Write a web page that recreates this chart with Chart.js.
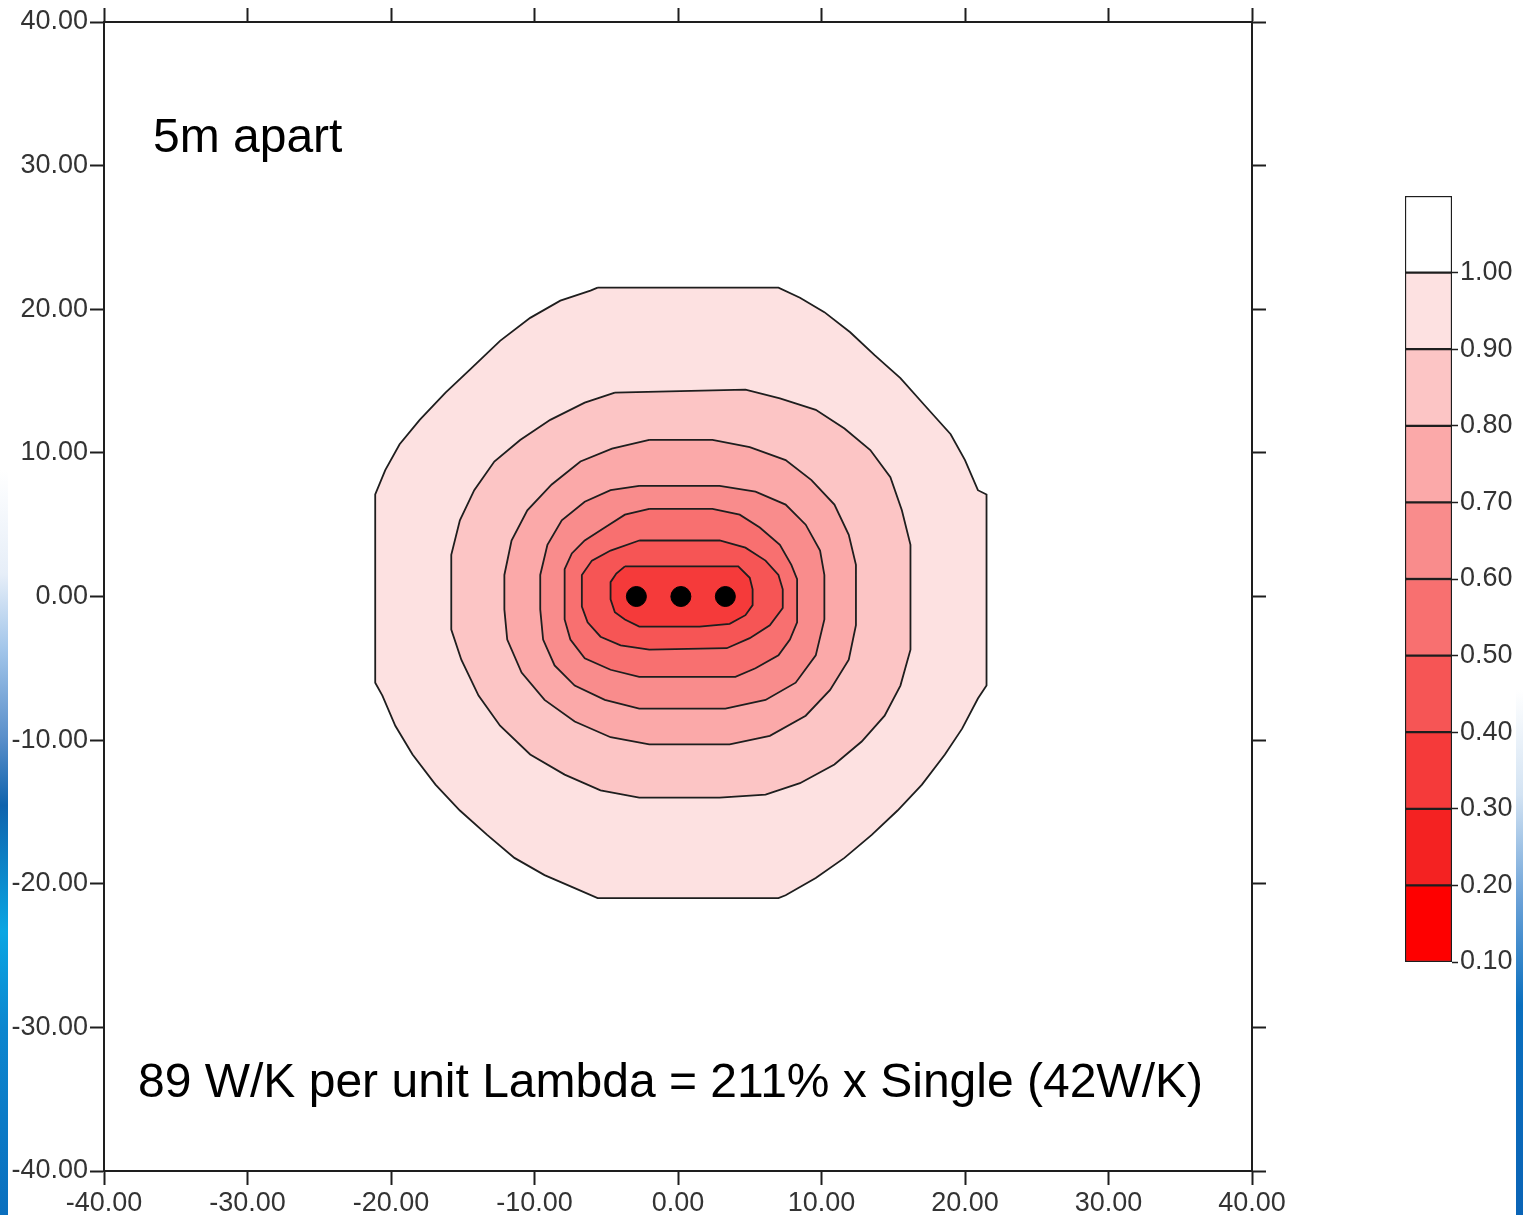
<!DOCTYPE html>
<html>
<head>
<meta charset="utf-8">
<title>5m apart</title>
<script src="https://cdn.jsdelivr.net/npm/chart.js@4/dist/chart.umd.min.js"></script>
<style>
  html, body { margin: 0; padding: 0; background: #fff; }
  #wrap { position: relative; width: 1523px; height: 1215px; overflow: hidden; }
  .strip { position: absolute; width: 8px; }
  #stripL { left: 0; top: 470px; height: 745px;
    background: linear-gradient(#ffffff 0%, #e6eef8 14%, #a3c6ea 24%, #5a8fca 36%, #0f63ad 45%, #0aa6e3 62%, #0c86cf 75%, #0a6fbe 100%); }
  #stripR { left: 1516px; top: 690px; height: 525px; width: 7px;
    background: linear-gradient(#ffffff 0%, #d3e3f3 20%, #6aa1d7 40%, #0a6fbe 60%, #0a64b6 100%); }
  #plot { position: absolute; left: 0; top: 0; }
  #scale { position: absolute; left: 1395px; top: 170px; }
</style>
</head>
<body>
<div id="wrap">
  <div class="strip" id="stripL"></div>
  <div class="strip" id="stripR"></div>
  <canvas id="plot" width="1523" height="1215"></canvas>
  <canvas id="scale" width="128" height="820"></canvas>
</div>
<script>
  // axis ticks, both directions
  var axisTicks = [-40, -30, -20, -10, 0, 10, 20, 30, 40];

  // contour levels, outermost first
  var levels = [1.00, 0.90, 0.80, 0.70, 0.60, 0.50, 0.40];

  var ring100 = [[-5.6,21.5],[7.0,21.5],[8.5,20.8],[10.2,19.8],[12.0,18.4],[13.7,16.8],[15.5,15.2],[17.2,13.3],[19.0,11.3],[20.0,9.5],[20.9,7.4],[21.5,7.1],[21.5,-6.2],[20.9,-7.1],[19.8,-9.2],[18.6,-11.0],[17.0,-13.1],[15.3,-14.9],[13.5,-16.6],[11.6,-18.2],[9.6,-19.6],[7.5,-20.8],[7.0,-21.0],[-5.6,-21.0],[-7.2,-20.3],[-9.3,-19.4],[-11.4,-18.2],[-13.3,-16.6],[-15.2,-14.9],[-16.9,-13.1],[-18.5,-11.0],[-19.7,-9.0],[-20.6,-6.9],[-21.1,-6.0],[-21.1,7.1],[-20.4,8.8],[-19.4,10.6],[-18.0,12.3],[-16.2,14.2],[-14.5,15.8],[-12.4,17.8],[-10.3,19.4],[-8.2,20.6],[-6.1,21.3]];
  var ring90 = [[-4.4,14.2],[4.7,14.4],[7.1,13.8],[9.6,13.0],[11.6,11.7],[13.4,10.2],[14.8,8.3],[15.6,6.0],[16.2,3.6],[16.2,-3.7],[15.5,-6.2],[14.4,-8.3],[12.8,-10.1],[10.9,-11.7],[8.5,-13.0],[6.1,-13.8],[2.9,-14.0],[-2.7,-14.0],[-5.4,-13.5],[-7.9,-12.4],[-10.3,-11.0],[-12.4,-9.0],[-13.9,-6.9],[-15.1,-4.4],[-15.8,-2.3],[-15.8,2.9],[-15.2,5.3],[-14.2,7.4],[-12.8,9.4],[-11.0,10.9],[-8.9,12.3],[-6.5,13.5]];
  var ring80 = [[-2.0,10.9],[2.4,10.9],[5.0,10.4],[7.5,9.5],[9.3,8.1],[10.9,6.4],[11.9,4.3],[12.4,2.2],[12.4,-2.0],[11.9,-4.4],[10.6,-6.5],[8.9,-8.3],[6.4,-9.7],[3.6,-10.3],[-2.0,-10.3],[-4.7,-9.8],[-7.2,-8.7],[-9.3,-7.2],[-10.9,-5.3],[-11.9,-3.0],[-12.1,-0.9],[-12.1,1.5],[-11.6,3.9],[-10.5,6.0],[-8.8,7.8],[-6.8,9.4],[-4.6,10.3]];
  var ring70 = [[-2.7,7.7],[2.9,7.7],[5.4,7.3],[7.5,6.4],[8.9,5.0],[9.9,3.2],[10.2,1.5],[10.2,-1.6],[9.6,-4.1],[8.2,-6.0],[6.1,-7.2],[3.3,-7.8],[-2.7,-7.8],[-5.1,-7.2],[-7.2,-6.2],[-8.6,-4.8],[-9.4,-3.0],[-9.6,-0.9],[-9.6,1.5],[-9.1,3.6],[-8.1,5.3],[-6.5,6.6],[-4.7,7.4]];
  var ring60 = [[-2.0,6.1],[2.4,6.1],[4.3,5.7],[5.7,4.8],[7.1,3.6],[7.9,2.2],[8.3,1.2],[8.3,-1.8],[7.8,-3.0],[7.0,-4.1],[5.4,-5.0],[4.0,-5.6],[-2.7,-5.6],[-4.7,-5.1],[-6.5,-4.3],[-7.5,-3.0],[-7.9,-1.6],[-7.9,1.9],[-7.4,3.0],[-6.5,3.9],[-5.1,4.8],[-3.7,5.7]];
  var ring50 = [[-2.7,3.9],[2.9,3.9],[4.7,3.4],[6.1,2.5],[7.0,1.5],[7.3,0.5],[7.3,-0.8],[6.4,-2.0],[5.0,-2.9],[3.4,-3.6],[-2.0,-3.7],[-4.0,-3.4],[-5.4,-2.8],[-6.3,-1.8],[-6.7,-0.7],[-6.7,1.5],[-6.0,2.5],[-4.7,3.2]];
  var ring40 = [[-3.7,2.1],[4.2,2.1],[5.0,1.3],[5.2,0.5],[5.2,-0.6],[4.7,-1.3],[3.6,-1.9],[1.5,-2.1],[-2.7,-2.1],[-3.7,-1.6],[-4.4,-1.1],[-4.7,-0.2],[-4.7,1.0],[-4.3,1.6]];
  var rings = [ring100, ring90, ring80, ring70, ring60, ring50, ring40];

  // heat sources
  var wellX = [-2.9, 0.2, 3.3];
  var wellY = [0, 0, 0];

  // colour scale bands (low edge, high edge, colour)
  var bandLow = [0.1, 0.2, 0.3, 0.4, 0.5, 0.6, 0.7, 0.8, 0.9, 1.0];
  var bandHigh = [0.2, 0.3, 0.4, 0.5, 0.6, 0.7, 0.8, 0.9, 1.0, 1.1];
  var bandColors = ['#fe0000', '#f42222', '#f53a3a', '#f65555', '#f87070', '#f98c8c', '#fba9a9', '#fcc5c5', '#fde1e1', '#ffffff'];
  var scaleTicks = [0.1, 0.2, 0.3, 0.4, 0.5, 0.6, 0.7, 0.8, 0.9, 1.0, 1.1];

  Chart.defaults.font.family = 'Liberation Sans, Arial, sans-serif';
  var tickFont = { size: 27 };
  var tickColor = '#333';
  var lineColor = '#1e1e1e';

  function bandColorFor(level) {
    for (var i = 0; i < bandHigh.length; i++) {
      if (Math.abs(bandHigh[i] - level) < 1e-6) return bandColors[i];
    }
    return '#fff';
  }

  var datasets = [{
    type: 'scatter',
    data: wellX.map(function (x, i) { return { x: x, y: wellY[i] }; }),
    backgroundColor: '#000',
    borderColor: '#000',
    pointRadius: 10,
    order: 0
  }];

  rings.forEach(function (ring, i) {
    var pts = ring.map(function (p) { return { x: p[0], y: p[1] }; });
    pts.push(pts[0]);
    datasets.push({
      type: 'line',
      data: pts,
      fill: 'shape',
      backgroundColor: bandColorFor(levels[i]),
      borderColor: lineColor,
      borderWidth: 1.8,
      pointRadius: 0,
      tension: 0,
      order: levels.length - i
    });
  });

  function setTicks(axis) {
    axis.ticks = axisTicks.map(function (v) { return { value: v }; });
  }

  function axisOpts(position, showLabels, size) {
    var horizontal = position === 'top' || position === 'bottom';
    return {
      type: 'linear',
      position: position,
      min: -40,
      max: 40,
      afterBuildTicks: setTicks,
      afterFit: function (axis) {
        if (horizontal) axis.height = size; else axis.width = size;
      },
      ticks: {
        display: showLabels,
        autoSkip: false,
        maxRotation: 0,
        padding: 2,
        font: tickFont,
        color: tickColor,
        callback: function (v) { return Number(v).toFixed(2); }
      },
      grid: {
        drawOnChartArea: false,
        tickLength: 14,
        tickWidth: 2,
        tickColor: lineColor
      },
      border: { color: lineColor, width: 2 }
    };
  }

  var labelPlugin = {
    id: 'labels',
    afterDraw: function (chart) {
      var c = chart.ctx;
      c.save();
      c.fillStyle = '#000';
      c.textBaseline = 'alphabetic';
      c.textAlign = 'left';
      c.font = '48px "Liberation Sans", Arial, sans-serif';
      c.fillText('5m apart', 153, 152);
      c.fillText('89 W/K per unit Lambda = 211% x Single (42W/K)', 138, 1097);
      c.restore();
    }
  };

  new Chart(document.getElementById('plot').getContext('2d'), {
    type: 'scatter',
    data: { datasets: datasets },
    options: {
      responsive: false,
      animation: false,
      layout: { padding: 0 },
      plugins: { legend: { display: false }, tooltip: { enabled: false } },
      scales: {
        x: axisOpts('bottom', true, 44),
        xTop: axisOpts('top', false, 22),
        y: axisOpts('left', true, 104),
        yRight: axisOpts('right', false, 271)
      }
    },
    plugins: [labelPlugin]
  });

  // colour scale
  new Chart(document.getElementById('scale').getContext('2d'), {
    type: 'bar',
    data: {
      labels: [''],
      datasets: bandLow.map(function (lo, i) {
        return {
          data: [[lo, bandHigh[i]]],
          backgroundColor: bandColors[i],
          borderColor: lineColor,
          borderWidth: 1.5,
          borderSkipped: false,
          grouped: false,
          barPercentage: 1,
          categoryPercentage: 1
        };
      })
    },
    options: {
      responsive: false,
      animation: false,
      layout: { padding: { left: 10, top: 26, bottom: 28, right: 0 } },
      plugins: { legend: { display: false }, tooltip: { enabled: false } },
      scales: {
        x: { display: false },
        y: {
          position: 'right',
          min: 0.1,
          max: 1.1,
          afterBuildTicks: function (axis) {
            axis.ticks = scaleTicks.map(function (v) { return { value: v }; });
          },
          afterFit: function (axis) { axis.width = 71; },
          ticks: {
            padding: 2,
            font: tickFont,
            color: tickColor,
            callback: function (v) { return v > 1.05 ? '' : Number(v).toFixed(2); }
          },
          grid: {
            drawOnChartArea: false,
            tickLength: 6,
            tickWidth: 1.5,
            tickColor: function (ctx) { return ctx.tick && ctx.tick.value > 1.05 ? 'rgba(0,0,0,0)' : lineColor; }
          },
          border: { display: false }
        }
      }
    }
  });
</script>
</body>
</html>
